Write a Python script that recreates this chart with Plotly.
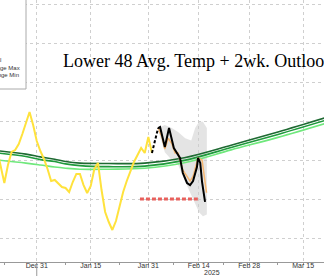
import plotly.graph_objects as go
import pandas as pd

# ---------------- data ----------------
actual_dates = pd.date_range("2024-12-20", "2025-02-01", freq="D")
actual_vals = [36.3, 34.36, 32.05, 34.36, 36.03, 36.28, 37.05, 38.33, 39.87, 41.15,
               39.49, 37.44, 36.15, 35.13, 33.85, 32.31, 32.44, 31.92, 31.54, 31.41,
               30.9, 32.18, 33.21, 33.21, 31.79, 30.77, 31.67, 33.85, 34.62, 31.15,
               28.33, 27.05, 26.03, 27.18, 29.1, 30.9, 32.31, 33.59, 34.74, 35.64,
               36.54, 35.9, 37.95, 35.9]

link_dates = ["2025-02-01 00:00", "2025-02-02 17:00"]
link_vals = [35.9, 39.1]

fc_dates = ["2025-02-02 17:00", "2025-02-03 06:00", "2025-02-04 14:00", "2025-02-05 18:00",
            "2025-02-07 02:00", "2025-02-08 06:00", "2025-02-08 19:00", "2025-02-09 14:00",
            "2025-02-10 18:00", "2025-02-11 14:00", "2025-02-12 10:00", "2025-02-13 12:00",
            "2025-02-13 19:00", "2025-02-14 10:00", "2025-02-14 22:00", "2025-02-15 18:00"]
fc_vals = [39.1, 39.23, 36.67, 39.1, 36.54, 35.64, 35.26, 33.33,
           32.05, 31.79, 32.31, 34.1, 35.26, 34.62, 32.18, 29.62]

alt_dates = ["2025-02-02 17:00", "2025-02-03 19:00", "2025-02-04 14:00", "2025-02-05 12:00",
             "2025-02-06 12:00", "2025-02-07 10:00", "2025-02-08 06:00", "2025-02-08 19:00",
             "2025-02-09 14:00", "2025-02-10 18:00", "2025-02-11 14:00", "2025-02-12 10:00",
             "2025-02-13 12:00", "2025-02-13 19:00", "2025-02-14 22:00", "2025-02-15 12:00",
             "2025-02-16 04:00"]
alt_vals = [39.1, 37.95, 36.4, 37.8, 37.1, 35.9, 35.9, 34.9, 33.7, 32.9, 32.3, 32.9,
            34.6, 35.26, 35.0, 33.2, 30.8]

band_dates = ["2025-02-02 17:00", "2025-02-04 14:00", "2025-02-06 12:00", "2025-02-08 06:00",
              "2025-02-10 06:00", "2025-02-11 22:00", "2025-02-13 00:00", "2025-02-14 02:00",
              "2025-02-15 04:00", "2025-02-16 06:00"]
band_hi = [39.1, 39.5, 39.1, 38.6, 37.8, 37.5, 39.1, 39.9, 39.9, 39.1]
band_lo = [38.8, 36.0, 35.0, 34.4, 32.2, 30.5, 29.2, 28.3, 27.8, 28.0]

red_dates = ["2025-01-28 16:00", "2025-02-13 18:00"]
red_vals = [30.0, 30.0]

norm_dates = ["2024-12-18", "2024-12-28", "2025-01-01", "2025-01-05", "2025-01-08",
              "2025-01-12", "2025-01-20", "2025-01-30", "2025-02-10", "2025-02-23",
              "2025-03-08", "2025-03-22"]
normal_vals = [36.3, 35.75, 35.4, 35.1, 34.8, 34.6, 34.55, 34.6, 35.3, 36.9, 38.6, 40.55]
rmax_vals = [36.0, 35.45, 35.05, 34.8, 34.5, 34.28, 34.15, 34.22, 34.95, 36.6, 38.28, 40.2]
rmin_vals = [35.1, 34.6, 34.36, 34.1, 33.95, 33.81, 33.82, 33.94, 34.65, 36.3, 37.9, 39.8]

tick_vals = ["2024-12-31", "2025-01-15", "2025-01-31", "2025-02-14", "2025-02-28", "2025-03-15"]
tick_text = ["Dec 31", "Jan 15", "Jan 31", "Feb 14", "Feb 28", "Mar 15"]
minor_vals = ["2024-12-22", "2024-12-31", "2025-01-08", "2025-01-15", "2025-01-23",
              "2025-01-31", "2025-02-07", "2025-02-14", "2025-02-21", "2025-02-28",
              "2025-03-08", "2025-03-15"]
legend_names = ["Normal", "Range Max", "Range Min"]
title_text = "Lower 48 Avg. Temp + 2wk. Outlook"
year_text = "2025"

# ---------------- figure ----------------
fig = go.Figure()

fig.add_trace(go.Scatter(x=band_dates, y=band_hi, mode="lines", line=dict(width=0),
                         hoverinfo="skip", showlegend=False))
fig.add_trace(go.Scatter(x=band_dates, y=band_lo, mode="lines", line=dict(width=0),
                         fill="tonexty", fillcolor="rgba(205,205,205,0.55)",
                         hoverinfo="skip", showlegend=False))

fig.add_trace(go.Scatter(x=norm_dates, y=rmin_vals, mode="lines", line_shape="spline",
                         line=dict(color="#6fe87c", width=1.6), name=legend_names[2]))
fig.add_trace(go.Scatter(x=norm_dates, y=rmax_vals, mode="lines", line_shape="spline",
                         line=dict(color="#1f9a3c", width=1.6), name=legend_names[1]))
fig.add_trace(go.Scatter(x=norm_dates, y=normal_vals, mode="lines", line_shape="spline",
                         line=dict(color="#1e6a32", width=1.6), name=legend_names[0]))

fig.add_trace(go.Scatter(x=red_dates, y=red_vals, mode="lines",
                         line=dict(color="#e8605c", width=3, dash="4px,2px"), name="Low"))

fig.add_trace(go.Scatter(x=actual_dates, y=actual_vals, mode="lines",
                         line=dict(color="#ffe23c", width=2), name="Actual"))
fig.add_trace(go.Scatter(x=alt_dates, y=alt_vals, mode="lines",
                         line=dict(color="#f6b772", width=1.5), name="Alt"))
fig.add_trace(go.Scatter(x=link_dates, y=link_vals, mode="lines",
                         line=dict(color="black", width=2, dash="3px,2px"), name="Link"))
fig.add_trace(go.Scatter(x=fc_dates, y=fc_vals, mode="lines",
                         line=dict(color="black", width=2), name="Forecast"))

W, H = 324, 276
B = 14
PH = H - B

def py(p):
    return 1 - p / PH

fig.update_layout(
    width=W, height=H,
    margin=dict(l=0, r=0, t=0, b=B, pad=0, autoexpand=False),
    paper_bgcolor="white", plot_bgcolor="white",
    showlegend=False,
    xaxis=dict(type="date", range=["2024-12-20 19:00", "2025-03-20 19:00"],
               tickvals=tick_vals, ticktext=tick_text,
               tickfont=dict(family="Liberation Sans, Arial", size=7, color="#333"),
               ticks="", ticklabelstandoff=-3,
               minor=dict(tickvals=minor_vals, ticks="outside", ticklen=2, tickcolor="#999",
                          showgrid=False),
               showgrid=True, gridcolor="#cfcfcf", griddash="dot", gridwidth=1,
               showline=True, linecolor="#999", linewidth=1, zeroline=False),
    yaxis=dict(range=[55 - 258 / 7.8, 55 + 4 / 7.8], tickvals=[25, 30, 35, 40, 45, 50, 55],
               showticklabels=False, ticks="",
               showgrid=True, gridcolor="#cfcfcf", griddash="dot", gridwidth=1,
               zeroline=False, showline=False),
    shapes=[
        dict(type="rect", xref="paper", yref="paper", x0=-0.2, x1=26 / W,
             y0=py(89), y1=1.2, fillcolor="white", line=dict(color="#aaaaaa", width=1),
             layer="above"),
        dict(type="line", xref="x", yref="paper", x0="2024-12-31", x1="2024-12-31",
             y0=0, y1=-B / PH, line=dict(color="#999", width=1)),
    ],
    annotations=[
        dict(text=title_text, xref="paper", yref="paper", x=61 / W, y=py(61),
             xanchor="left", yanchor="middle", showarrow=False,
             font=dict(family="Liberation Serif, Times New Roman, serif", size=18,
                       color="black")),
        dict(text=year_text, xref="paper", yref="paper", x=212 / W, y=py(272),
             xanchor="center", yanchor="middle", showarrow=False,
             font=dict(family="Liberation Sans, Arial", size=7, color="#333")),
    ] + [
        dict(text=n, xref="paper", yref="paper", x=xx / W, y=py(yy),
             xanchor="right", yanchor="middle", showarrow=False,
             font=dict(family="Liberation Sans, Arial", size=6, color="#333"))
        for n, xx, yy in zip(legend_names, [3, 22, 21], [60, 67.5, 75])
    ],
)

fig.write_html("out.html")
